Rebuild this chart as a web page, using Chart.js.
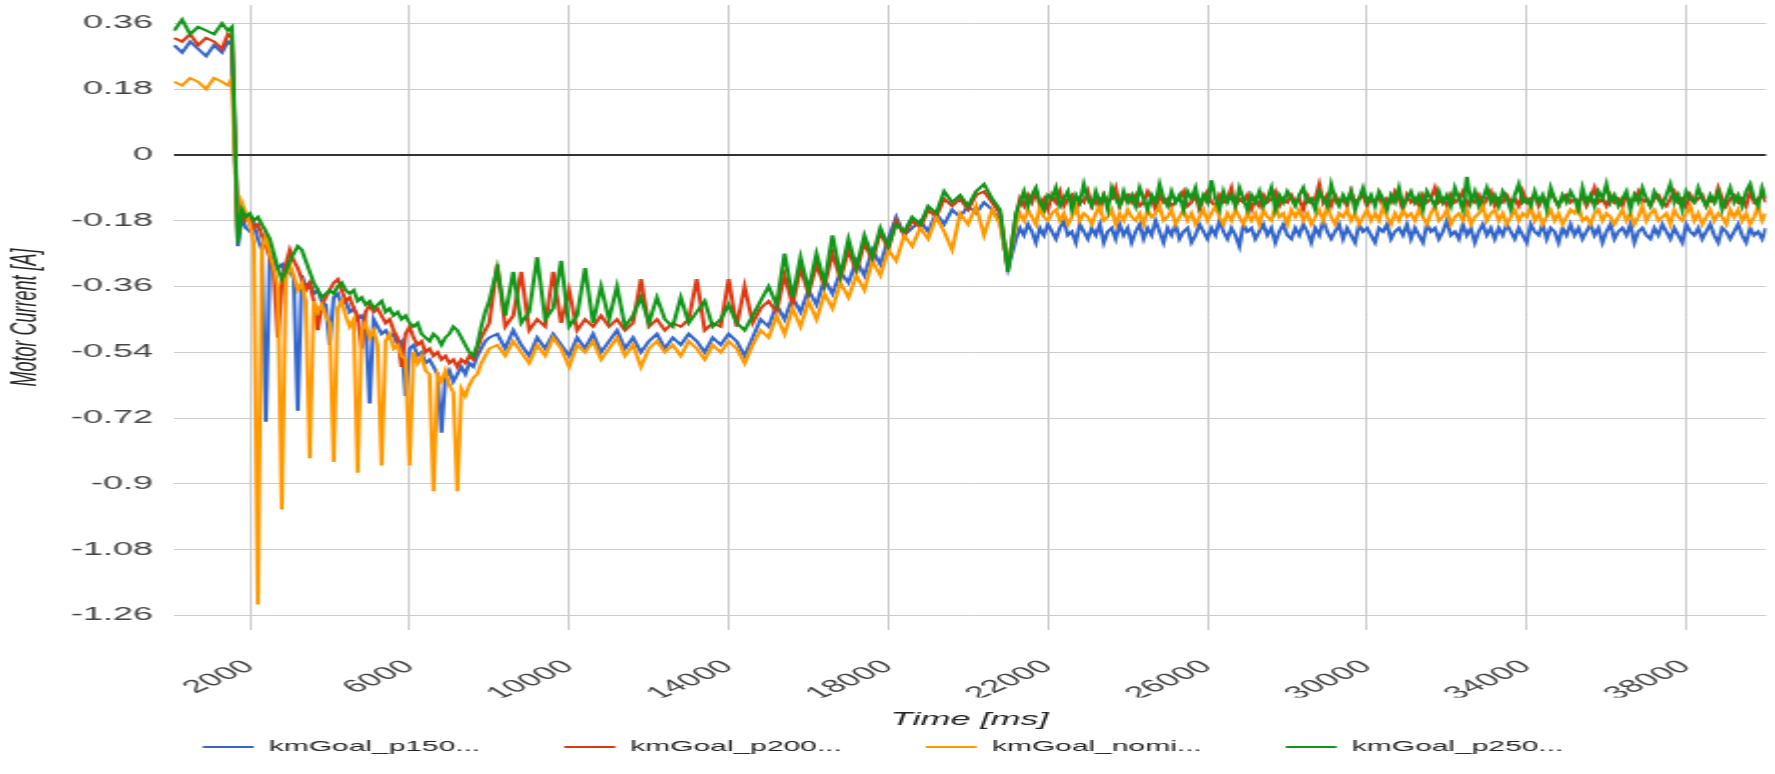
<!DOCTYPE html>
<html>
<head>
<meta charset="utf-8">
<title>Motor Current</title>
<script src="https://cdn.jsdelivr.net/npm/chart.js@4.4.0/dist/chart.umd.min.js"></script>
<style>
  html, body { margin: 0; padding: 0; background: #fff; }
  #wrap { width: 1775px; height: 774px; overflow: hidden; }
</style>
</head>
<body>
<div id="wrap">
  <!-- the source picture is stretched 2x horizontally, so the canvas is drawn at half width -->
  <canvas id="chart" width="888" height="774" style="width:1775px;height:774px"></canvas>
</div>
<script>
var timeMs = [
  100, 300, 500, 700, 900, 1100, 1300, 1450, 1550,
  1700, 1800, 1900, 2000, 2100, 2200, 2300, 2400, 2500, 2600,
  2700, 2800, 2900, 3000, 3100, 3200, 3300, 3400, 3500, 3600,
  3700, 3800, 3900, 4000, 4100, 4200, 4300, 4400, 4500, 4600,
  4700, 4800, 4900, 5000, 5100, 5200, 5300, 5400, 5500, 5600,
  5700, 5800, 5900, 6000, 6100, 6200, 6300, 6400, 6500, 6600,
  6700, 6800, 6900, 7000, 7100, 7200, 7300, 7400, 7500, 7600,
  7700, 7800, 7900, 8000,
  8200, 8400, 8600, 8800, 9000, 9200, 9400, 9600, 9800, 10000,
  10200, 10400, 10600, 10800, 11000, 11200, 11400, 11600, 11800, 12000,
  12200, 12400, 12600, 12800, 13000, 13200, 13400, 13600, 13800, 14000,
  14200, 14400, 14600, 14800, 15000, 15200, 15400, 15600, 15800, 16000,
  16200, 16400, 16600, 16800, 17000, 17200, 17400, 17600, 17800, 18000,
  18200, 18400, 18600, 18800, 19000, 19200, 19400, 19600, 19800, 20000,
  20200, 20400, 20600, 20800, 21000,
  21200, 21300, 21400, 21500, 21600, 21700, 21800, 21900, 22000, 22100,
  22200, 22300, 22400, 22500, 22600, 22700, 22800, 22900, 23000, 23100,
  23200, 23300, 23400, 23500, 23600, 23700, 23800, 23900, 24000, 24100,
  24200, 24300, 24400, 24500, 24600, 24700, 24800, 24900, 25000, 25100,
  25200, 25300, 25400, 25500, 25600, 25700, 25800, 25900, 26000, 26100,
  26200, 26300, 26400, 26500, 26600, 26700, 26800, 26900, 27000, 27100,
  27200, 27300, 27400, 27500, 27600, 27700, 27800, 27900, 28000, 28100,
  28200, 28300, 28400, 28500, 28600, 28700, 28800, 28900, 29000, 29100,
  29200, 29300, 29400, 29500, 29600, 29700, 29800, 29900, 30000, 30100,
  30200, 30300, 30400, 30500, 30600, 30700, 30800, 30900, 31000, 31100,
  31200, 31300, 31400, 31500, 31600, 31700, 31800, 31900, 32000, 32100,
  32200, 32300, 32400, 32500, 32600, 32700, 32800, 32900, 33000, 33100,
  33200, 33300, 33400, 33500, 33600, 33700, 33800, 33900, 34000, 34100,
  34200, 34300, 34400, 34500, 34600, 34700, 34800, 34900, 35000, 35100,
  35200, 35300, 35400, 35500, 35600, 35700, 35800, 35900, 36000, 36100,
  36200, 36300, 36400, 36500, 36600, 36700, 36800, 36900, 37000, 37100,
  37200, 37300, 37400, 37500, 37600, 37700, 37800, 37900, 38000, 38100,
  38200, 38300, 38400, 38500, 38600, 38700, 38800, 38900, 39000, 39100,
  39200, 39300, 39400, 39500, 39600, 39700, 39800, 39900, 40000
]

// kmGoal_p150 (blue)
var p150Current = [
  0.30, 0.28, 0.31, 0.29, 0.27, 0.30, 0.28, 0.31, 0.30,
  -0.25, -0.17, -0.20, -0.21, -0.19, -0.23, -0.26, -0.73, -0.27, -0.29,
  -0.31, -0.30, -0.33, -0.31, -0.34, -0.70, -0.33, -0.36, -0.35, -0.38,
  -0.37, -0.40, -0.41, -0.52, -0.39, -0.38, -0.41, -0.40, -0.43, -0.42,
  -0.45, -0.44, -0.46, -0.68, -0.45, -0.47, -0.49, -0.48, -0.50, -0.49,
  -0.52, -0.51, -0.66, -0.53, -0.52, -0.55, -0.54, -0.57, -0.56, -0.58,
  -0.60, -0.76, -0.61, -0.59, -0.62, -0.60, -0.58, -0.60, -0.57, -0.58,
  -0.55, -0.53, -0.51, -0.50,
  -0.49, -0.53, -0.48, -0.52, -0.55, -0.50, -0.53, -0.49, -0.52, -0.55,
  -0.50, -0.53, -0.49, -0.54, -0.51, -0.48, -0.53, -0.50, -0.54, -0.51,
  -0.49, -0.53, -0.50, -0.52, -0.49, -0.51, -0.54, -0.50, -0.52, -0.49,
  -0.51, -0.55, -0.50, -0.45, -0.47, -0.41, -0.45, -0.39, -0.43, -0.37,
  -0.41, -0.34, -0.38, -0.32, -0.35, -0.29, -0.33, -0.26, -0.30, -0.23,
  -0.17, -0.22, -0.20, -0.18, -0.21, -0.16, -0.19, -0.15, -0.17, -0.14,
  -0.16, -0.13, -0.15, -0.18, -0.31,
  -0.23, -0.20, -0.22, -0.19, -0.21, -0.24, -0.20, -0.22, -0.19, -0.21,
  -0.23, -0.20, -0.18, -0.22, -0.21, -0.24, -0.19, -0.21, -0.23, -0.20,
  -0.22, -0.19, -0.24, -0.21, -0.20, -0.23, -0.19, -0.22, -0.20, -0.24,
  -0.21, -0.19, -0.23, -0.20, -0.22, -0.18, -0.21, -0.24, -0.20, -0.22,
  -0.19, -0.23, -0.21, -0.20, -0.24, -0.22, -0.19, -0.21, -0.23, -0.20,
  -0.22, -0.18, -0.21, -0.23, -0.20, -0.22, -0.25, -0.19, -0.21, -0.20,
  -0.23, -0.21, -0.19, -0.22, -0.20, -0.24, -0.21, -0.19, -0.22, -0.23,
  -0.20, -0.22, -0.19, -0.21, -0.24, -0.20, -0.22, -0.18, -0.21, -0.23,
  -0.21, -0.19, -0.23, -0.20, -0.22, -0.24, -0.19, -0.21, -0.20, -0.22,
  -0.24, -0.20, -0.21, -0.19, -0.23, -0.21, -0.20, -0.22, -0.19, -0.23,
  -0.20, -0.22, -0.24, -0.19, -0.21, -0.20, -0.23, -0.21, -0.18, -0.22,
  -0.21, -0.23, -0.19, -0.22, -0.20, -0.24, -0.21, -0.19, -0.22, -0.20,
  -0.23, -0.20, -0.22, -0.19, -0.21, -0.23, -0.20, -0.22, -0.24, -0.19,
  -0.21, -0.22, -0.19, -0.23, -0.20, -0.21, -0.24, -0.20, -0.22, -0.19,
  -0.22, -0.20, -0.23, -0.21, -0.19, -0.22, -0.20, -0.24, -0.21, -0.19,
  -0.23, -0.21, -0.20, -0.22, -0.19, -0.24, -0.21, -0.20, -0.22, -0.23,
  -0.20, -0.22, -0.19, -0.21, -0.23, -0.20, -0.22, -0.24, -0.19, -0.21,
  -0.22, -0.20, -0.23, -0.21, -0.19, -0.22, -0.24, -0.20, -0.21, -0.23,
  -0.21, -0.19, -0.22, -0.24, -0.20, -0.22, -0.21, -0.23, -0.20
]

// kmGoal_p200 (red)
var p200Current = [
  0.32, 0.31, 0.33, 0.30, 0.32, 0.31, 0.29, 0.33, 0.32,
  -0.22, -0.16, -0.18, -0.17, -0.20, -0.19, -0.22, -0.25, -0.28, -0.32,
  -0.50, -0.36, -0.30, -0.26, -0.29, -0.31, -0.34, -0.37, -0.35, -0.40,
  -0.48, -0.41, -0.39, -0.37, -0.35, -0.34, -0.37, -0.40, -0.39, -0.42,
  -0.44, -0.53, -0.43, -0.41, -0.43, -0.42, -0.44, -0.46, -0.45, -0.48,
  -0.50, -0.58, -0.49, -0.47, -0.50, -0.52, -0.51, -0.54, -0.53, -0.55,
  -0.54, -0.56, -0.55, -0.57, -0.56, -0.58, -0.56, -0.57, -0.55, -0.56,
  -0.53, -0.50, -0.48, -0.46,
  -0.30, -0.47, -0.44, -0.32, -0.48, -0.45, -0.47, -0.32, -0.46, -0.37,
  -0.48, -0.45, -0.47, -0.44, -0.47, -0.45, -0.48, -0.46, -0.34, -0.47,
  -0.45, -0.48, -0.46, -0.47, -0.45, -0.34, -0.48, -0.46, -0.47, -0.34,
  -0.47, -0.36, -0.46, -0.42, -0.40, -0.43, -0.33, -0.41, -0.31, -0.38,
  -0.30, -0.36, -0.27, -0.34, -0.26, -0.32, -0.24, -0.29, -0.21, -0.26,
  -0.18, -0.22, -0.18, -0.20, -0.15, -0.17, -0.12, -0.14, -0.12, -0.15,
  -0.11, -0.10, -0.13, -0.16, -0.31,
  -0.17, -0.12, -0.14, -0.11, -0.13, -0.10, -0.14, -0.12, -0.15, -0.11,
  -0.13, -0.10, -0.14, -0.12, -0.11, -0.15, -0.12, -0.13, -0.10, -0.14,
  -0.12, -0.15, -0.11, -0.13, -0.12, -0.09, -0.14, -0.12, -0.11, -0.13,
  -0.11, -0.14, -0.13, -0.10, -0.12, -0.15, -0.11, -0.13, -0.12, -0.14,
  -0.13, -0.12, -0.10, -0.14, -0.13, -0.11, -0.15, -0.12, -0.10, -0.13,
  -0.14, -0.11, -0.13, -0.12, -0.09, -0.14, -0.12, -0.13, -0.11, -0.15,
  -0.12, -0.14, -0.11, -0.13, -0.12, -0.10, -0.14, -0.12, -0.13, -0.11,
  -0.13, -0.12, -0.15, -0.11, -0.13, -0.12, -0.08, -0.13, -0.11, -0.14,
  -0.11, -0.13, -0.12, -0.14, -0.10, -0.13, -0.12, -0.11, -0.14, -0.12,
  -0.13, -0.11, -0.14, -0.12, -0.13, -0.10, -0.12, -0.15, -0.11, -0.13,
  -0.12, -0.14, -0.11, -0.13, -0.12, -0.09, -0.13, -0.12, -0.14, -0.11,
  -0.13, -0.12, -0.10, -0.14, -0.12, -0.13, -0.11, -0.14, -0.12, -0.10,
  -0.14, -0.12, -0.13, -0.11, -0.13, -0.12, -0.14, -0.10, -0.13, -0.12,
  -0.11, -0.14, -0.12, -0.13, -0.10, -0.12, -0.14, -0.12, -0.11, -0.13,
  -0.12, -0.13, -0.11, -0.14, -0.12, -0.09, -0.13, -0.12, -0.14, -0.11,
  -0.13, -0.12, -0.14, -0.11, -0.13, -0.12, -0.10, -0.13, -0.12, -0.14,
  -0.12, -0.11, -0.13, -0.14, -0.12, -0.10, -0.13, -0.12, -0.14, -0.11,
  -0.13, -0.12, -0.11, -0.14, -0.12, -0.13, -0.09, -0.12, -0.14, -0.12,
  -0.11, -0.13, -0.12, -0.14, -0.10, -0.13, -0.12, -0.11, -0.13
]

// kmGoal_nominal (orange)
var nominalCurrent = [
  0.20, 0.19, 0.21, 0.20, 0.18, 0.21, 0.20, 0.19, 0.21,
  -0.22, -0.13, -0.16, -0.19, -0.24, -1.23, -0.26, -0.22, -0.27, -0.31,
  -0.36, -0.97, -0.34, -0.30, -0.33, -0.37, -0.35, -0.40, -0.83, -0.40,
  -0.43, -0.41, -0.44, -0.46, -0.84, -0.42, -0.40, -0.44, -0.47, -0.45,
  -0.87, -0.48, -0.46, -0.50, -0.48, -0.52, -0.85, -0.51, -0.49, -0.53,
  -0.52, -0.55, -0.56, -0.85, -0.54, -0.57, -0.55, -0.59, -0.60, -0.92,
  -0.60, -0.62, -0.59, -0.63, -0.65, -0.92, -0.64, -0.66, -0.63, -0.61,
  -0.60, -0.57, -0.55, -0.53,
  -0.52, -0.55, -0.51, -0.54, -0.57, -0.52, -0.55, -0.50, -0.53, -0.58,
  -0.52, -0.54, -0.51, -0.56, -0.53, -0.50, -0.55, -0.52, -0.58, -0.53,
  -0.51, -0.54, -0.52, -0.55, -0.51, -0.53, -0.56, -0.52, -0.54, -0.51,
  -0.53, -0.57, -0.52, -0.48, -0.50, -0.44, -0.49, -0.42, -0.47, -0.40,
  -0.45, -0.38, -0.42, -0.35, -0.39, -0.33, -0.37, -0.29, -0.33, -0.26,
  -0.29, -0.22, -0.25, -0.20, -0.23, -0.17, -0.21, -0.26, -0.16, -0.19,
  -0.14, -0.22, -0.15, -0.19, -0.30,
  -0.19, -0.16, -0.18, -0.15, -0.17, -0.19, -0.14, -0.17, -0.18, -0.16,
  -0.15, -0.18, -0.16, -0.19, -0.17, -0.14, -0.18, -0.16, -0.17, -0.19,
  -0.16, -0.14, -0.18, -0.17, -0.15, -0.19, -0.16, -0.18, -0.15, -0.17,
  -0.18, -0.16, -0.19, -0.15, -0.17, -0.16, -0.14, -0.18, -0.17, -0.15,
  -0.19, -0.17, -0.15, -0.18, -0.16, -0.19, -0.17, -0.15, -0.18, -0.16,
  -0.14, -0.17, -0.19, -0.16, -0.18, -0.15, -0.17, -0.19, -0.16, -0.18,
  -0.16, -0.19, -0.15, -0.17, -0.18, -0.14, -0.17, -0.16, -0.19, -0.15,
  -0.17, -0.15, -0.18, -0.16, -0.19, -0.17, -0.15, -0.18, -0.14, -0.17,
  -0.19, -0.16, -0.17, -0.15, -0.18, -0.16, -0.19, -0.17, -0.15, -0.18,
  -0.16, -0.18, -0.14, -0.17, -0.19, -0.16, -0.18, -0.15, -0.17, -0.16,
  -0.18, -0.15, -0.17, -0.19, -0.16, -0.14, -0.18, -0.17, -0.15, -0.19,
  -0.17, -0.16, -0.18, -0.15, -0.19, -0.17, -0.16, -0.14, -0.18, -0.16,
  -0.15, -0.18, -0.16, -0.19, -0.17, -0.15, -0.18, -0.16, -0.17, -0.14,
  -0.18, -0.16, -0.19, -0.17, -0.15, -0.18, -0.16, -0.19, -0.17, -0.15,
  -0.16, -0.14, -0.18, -0.17, -0.19, -0.16, -0.15, -0.18, -0.16, -0.17,
  -0.19, -0.17, -0.15, -0.18, -0.16, -0.19, -0.17, -0.14, -0.18, -0.16,
  -0.15, -0.18, -0.17, -0.16, -0.19, -0.15, -0.17, -0.18, -0.16, -0.14,
  -0.18, -0.16, -0.19, -0.17, -0.15, -0.18, -0.16, -0.17, -0.19, -0.15,
  -0.17, -0.15, -0.18, -0.16, -0.19, -0.17, -0.14, -0.18, -0.16
]

// kmGoal_p250 (green)
var p250Current = [
  0.34, 0.37, 0.33, 0.35, 0.34, 0.33, 0.36, 0.34, 0.35,
  -0.24, -0.15, -0.17, -0.16, -0.18, -0.17, -0.19, -0.21, -0.23, -0.27,
  -0.31, -0.34, -0.32, -0.29, -0.27, -0.25, -0.26, -0.29, -0.32, -0.35,
  -0.37, -0.39, -0.38, -0.37, -0.38, -0.36, -0.35, -0.37, -0.38, -0.37,
  -0.40, -0.39, -0.41, -0.40, -0.42, -0.41, -0.40, -0.43, -0.42, -0.44,
  -0.43, -0.45, -0.44, -0.46, -0.47, -0.46, -0.49, -0.50, -0.51, -0.49,
  -0.50, -0.52, -0.50, -0.49, -0.47, -0.48, -0.50, -0.52, -0.54, -0.55,
  -0.52, -0.47, -0.43, -0.40,
  -0.31, -0.44, -0.32, -0.46, -0.43, -0.28, -0.45, -0.42, -0.29, -0.47,
  -0.44, -0.31, -0.46, -0.36, -0.45, -0.36, -0.47, -0.44, -0.39, -0.46,
  -0.39, -0.45, -0.47, -0.39, -0.46, -0.43, -0.40, -0.47, -0.45, -0.41,
  -0.46, -0.48, -0.44, -0.40, -0.36, -0.41, -0.27, -0.39, -0.28, -0.37,
  -0.27, -0.35, -0.22, -0.33, -0.23, -0.31, -0.22, -0.28, -0.20, -0.25,
  -0.19, -0.21, -0.17, -0.19, -0.14, -0.16, -0.10, -0.13, -0.11, -0.14,
  -0.10, -0.08, -0.12, -0.15, -0.32,
  -0.16, -0.13, -0.10, -0.14, -0.11, -0.09, -0.13, -0.15, -0.11, -0.12,
  -0.09, -0.14, -0.12, -0.10, -0.15, -0.11, -0.13, -0.08, -0.12, -0.14,
  -0.10, -0.13, -0.11, -0.15, -0.09, -0.12, -0.14, -0.10, -0.13, -0.11,
  -0.14, -0.09, -0.12, -0.15, -0.11, -0.13, -0.08, -0.12, -0.14, -0.10,
  -0.13, -0.11, -0.15, -0.10, -0.12, -0.09, -0.14, -0.11, -0.13, -0.07,
  -0.12, -0.15, -0.10, -0.13, -0.11, -0.14, -0.09, -0.12, -0.15, -0.11,
  -0.13, -0.10, -0.14, -0.12, -0.09, -0.15, -0.11, -0.13, -0.10, -0.12,
  -0.14, -0.11, -0.09, -0.13, -0.12, -0.15, -0.10, -0.12, -0.14, -0.08,
  -0.12, -0.14, -0.11, -0.13, -0.10, -0.15, -0.12, -0.09, -0.13, -0.11,
  -0.14, -0.10, -0.12, -0.15, -0.11, -0.13, -0.09, -0.14, -0.12, -0.10,
  -0.13, -0.11, -0.15, -0.10, -0.12, -0.14, -0.10, -0.13, -0.11, -0.14,
  -0.09, -0.12, -0.15, -0.06, -0.13, -0.10, -0.14, -0.12, -0.09, -0.13,
  -0.11, -0.14, -0.10, -0.12, -0.15, -0.11, -0.08, -0.13, -0.12, -0.14,
  -0.10, -0.13, -0.11, -0.15, -0.09, -0.12, -0.14, -0.11, -0.13, -0.10,
  -0.12, -0.15, -0.09, -0.13, -0.11, -0.14, -0.10, -0.12, -0.08, -0.13,
  -0.11, -0.14, -0.12, -0.10, -0.15, -0.11, -0.13, -0.09, -0.12, -0.14,
  -0.10, -0.12, -0.14, -0.11, -0.08, -0.13, -0.11, -0.15, -0.10, -0.12,
  -0.13, -0.09, -0.12, -0.14, -0.11, -0.13, -0.10, -0.15, -0.12, -0.09,
  -0.13, -0.11, -0.14, -0.10, -0.08, -0.12, -0.14, -0.09, -0.12
]

var seriesLabels = ['kmGoal_p150...', 'kmGoal_p200...', 'kmGoal_nomi...', 'kmGoal_p250...']
var seriesColors = ['#3366cc', '#dc3912', '#ff9900', '#109618']
var xTickValues = [2000, 6000, 10000, 14000, 18000, 22000, 26000, 30000, 34000, 38000]
var yTickValues = [0.36, 0.18, 0, -0.18, -0.36, -0.54, -0.72, -0.9, -1.08, -1.26]

function toPoints(values) {
  return values.map(function (v, i) {
    return { x: timeMs[i], y: v }
  })
}

function makeDataset(idx, values, order) {
  return {
    label: seriesLabels[idx],
    data: toPoints(values),
    borderColor: seriesColors[idx],
    backgroundColor: seriesColors[idx],
    borderWidth: 2,
    pointRadius: 0,
    tension: 0,
    order: order
  }
}

Chart.defaults.font.family = "'Liberation Sans', Arial, sans-serif"

var chartCanvas = document.getElementById('chart').getContext('2d')

var motorChart = new Chart(chartCanvas, {
  type: 'line',
  data: {
    datasets: [
      makeDataset(0, p150Current, 3),
      makeDataset(1, p200Current, 2),
      makeDataset(2, nominalCurrent, 1),
      makeDataset(3, p250Current, 0)
    ]
  },
  options: {
    responsive: false,
    devicePixelRatio: 1,
    animation: false,
    layout: { padding: { left: 0, right: 4.5, top: 5, bottom: 9.5 } },
    plugins: {
      tooltip: { enabled: false },
      legend: {
        position: 'bottom',
        labels: {
          color: '#222',
          font: { size: 15 },
          usePointStyle: true,
          pointStyle: 'line',
          pointStyleWidth: 25.5,
          padding: 42,
          sort: function (a, b) { return a.datasetIndex - b.datasetIndex }
        }
      }
    },
    scales: {
      x: {
        type: 'linear',
        min: 70,
        max: 40000,
        afterFit: function (scale) {
          scale.height = 67.5
          scale.paddingLeft = 0
          scale.paddingRight = 0
        },
        afterBuildTicks: function (scale) {
          scale.ticks = xTickValues.map(function (v) { return { value: v } })
        },
        ticks: {
          autoSkip: false,
          minRotation: 40,
          maxRotation: 40,
          padding: 26,
          color: '#444',
          font: { size: 18 },
          callback: function (v) { return String(v) }
        },
        grid: { color: '#cccccc', lineWidth: 1, drawTicks: false, tickLength: 0 },
        border: { display: false },
        title: {
          display: true,
          text: 'Time [ms]',
          color: '#222',
          font: { size: 18, style: 'italic' },
          padding: { top: 0, bottom: -33.3 }
        }
      },
      y: {
        min: -1.3,
        max: 0.41,
        afterFit: function (scale) {
          scale.width = 86.5
          scale.paddingTop = 0
          scale.paddingBottom = 0
        },
        afterBuildTicks: function (scale) {
          scale.ticks = yTickValues.map(function (v) { return { value: v } })
        },
        ticks: {
          padding: 10,
          color: '#444',
          font: { size: 18 },
          callback: function (v) { return String(Math.round(v * 100) / 100) }
        },
        grid: {
          color: function (c) { return c.tick && c.tick.value === 0 ? '#333333' : '#cccccc' },
          lineWidth: function (c) { return c.tick && c.tick.value === 0 ? 2 : 1 },
          drawTicks: false,
          tickLength: 0
        },
        border: { display: false },
        title: {
          display: true,
          text: 'Motor Current [A]',
          color: '#222',
          font: { size: 18, style: 'italic' },
          padding: { top: 2, bottom: 0 }
        }
      }
    }
  }
})
</script>
</body>
</html>
